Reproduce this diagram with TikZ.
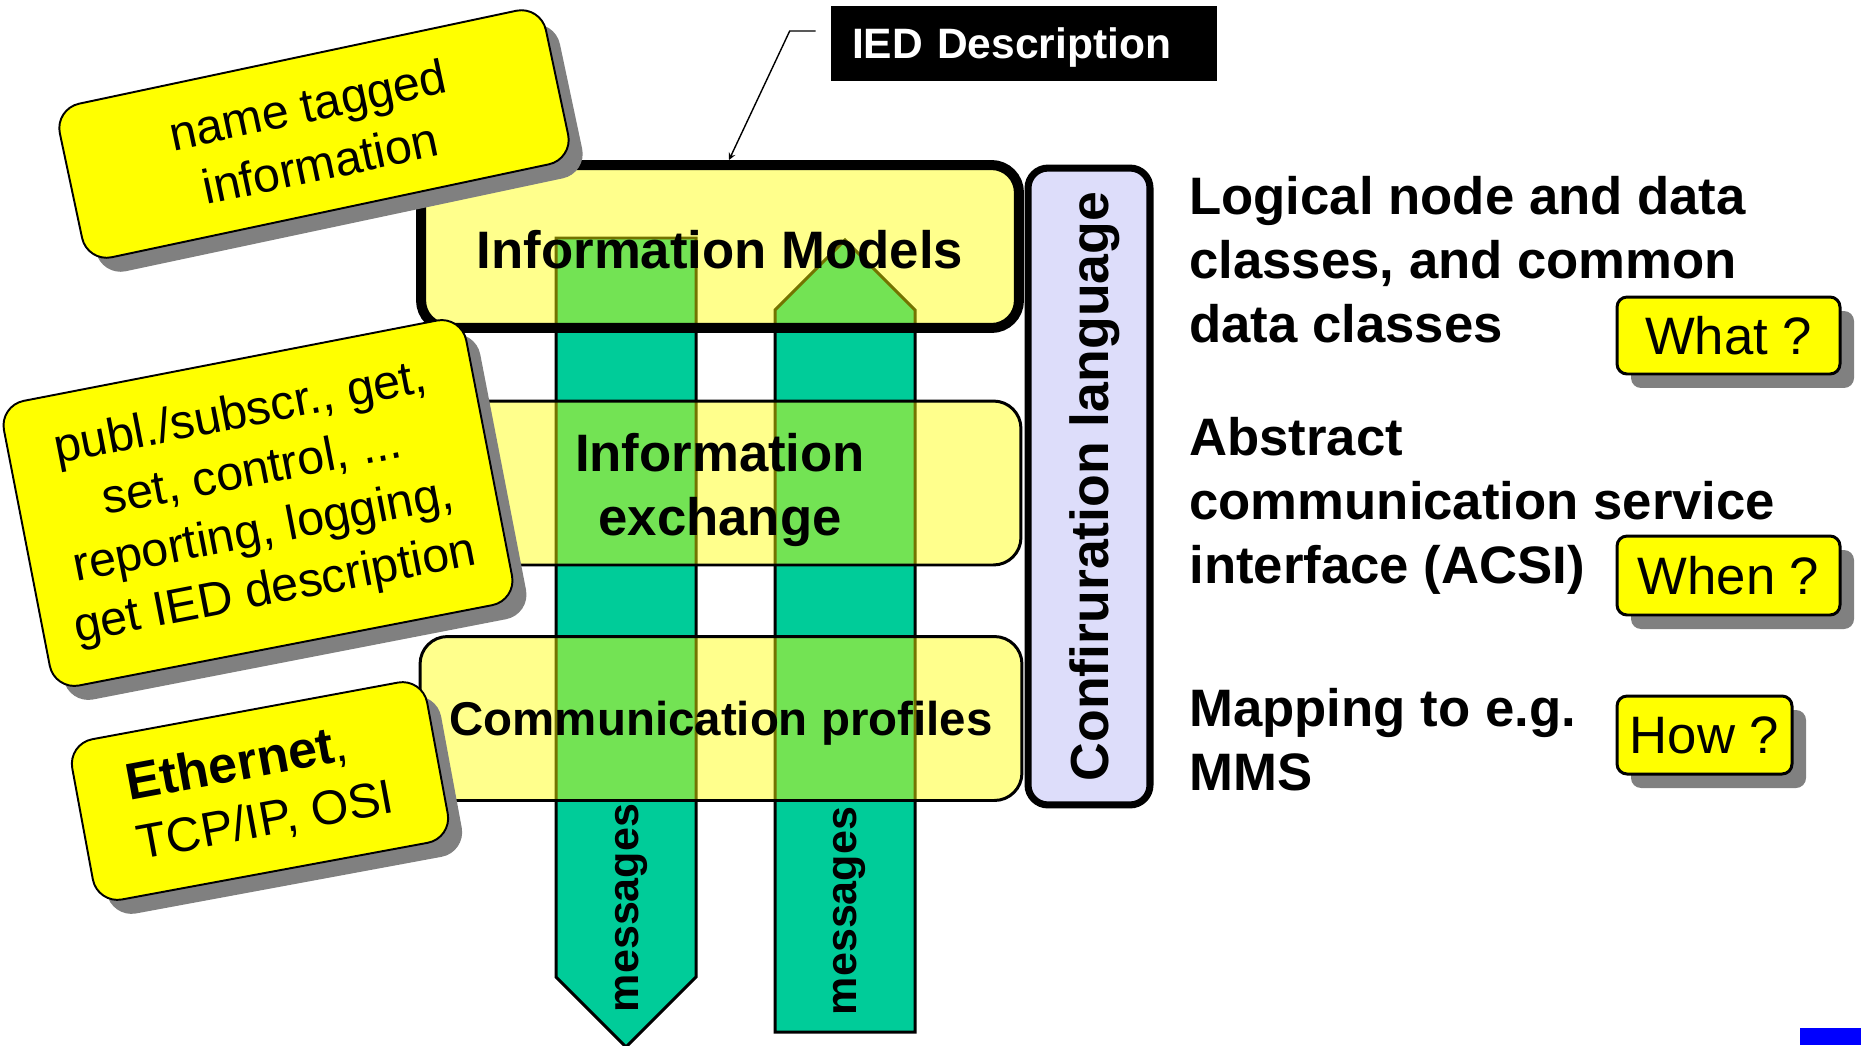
\documentclass[tikz,border=0pt]{standalone}
\usepackage{fontspec}
\setmainfont{Liberation Sans}
\usepackage{tikz}
\usetikzlibrary{shapes,arrows,positioning,calc,shadows}
\usepackage{xcolor}
\definecolor{noteyellow}{RGB}{255,255,0}
\definecolor{msggreen}{RGB}{0,204,153}
\definecolor{shadowgray}{RGB}{128,128,128}
\definecolor{conflilac}{RGB}{221,221,250}

\begin{document}
\begin{tikzpicture}[
    x=0.02cm, y=-0.02cm,
    layer/.style={draw, line width=1.7pt, rounded corners=0.55cm, fill=noteyellow, fill opacity=0.45, text opacity=1, minimum width=12.04cm, minimum height=3.28cm, align=center, font=\bfseries\fontsize{30}{36.4}\selectfont},
    column/.style={draw, line width=1.7pt, fill=msggreen},
    callout/.style={draw, line width=1.1pt, rounded corners=0.5cm, fill=noteyellow, align=center, font=\fontsize{27.5}{34}\selectfont, general shadow={fill=shadowgray, shadow xshift=0.28cm, shadow yshift=-0.28cm}},
    question/.style={draw, line width=1.7pt, rounded corners=0.2cm, fill=noteyellow, font=\fontsize{30}{36}\selectfont, general shadow={fill=shadowgray, shadow xshift=0.28cm, shadow yshift=-0.28cm}},
    topic/.style={anchor=north west, inner sep=0pt, align=left, font=\bfseries\fontsize{30}{36.4}\selectfont},
    pointer/.style={-stealth, line width=0.8pt}
]
    \useasboundingbox (0,0) rectangle (1861,1045);

    % message columns, under the layers
    \draw[column] (556,238) -- (696,238) -- (696,977) -- (626,1047) -- (556,977) -- cycle;
    \draw[column] (775,1032) -- (775,310) -- (845,240) -- (915,310) -- (915,1032) -- cycle;
    \node[rotate=90, font=\bfseries\fontsize{24.5}{28}\selectfont] (msgdown) at (631,908) {messages};
    \node[rotate=90, font=\bfseries\fontsize{24.5}{28}\selectfont] (msgup) at (849,911) {messages};

    % the three layers
    \node[layer, line width=5.7pt, minimum width=11.96cm, minimum height=3.26cm] (models) at (720,246.5) {\rule{0pt}{0.83em}Information Models};
    \node[layer] (exchange) at (720,483) {\rule{0pt}{1em}Information\\exchange};
    \node[layer, text depth=0pt, font=\bfseries\fontsize{27}{32}\selectfont] (profiles) at (721,718.5) {Communication profiles};

    \node[draw, line width=4pt, rounded corners=0.4cm, fill=conflilac, rotate=90, minimum width=12.74cm, minimum height=2.44cm, text depth=0pt, font=\bfseries\fontsize{30.5}{34}\selectfont] (config) at (1089,486.5) {Confiruration language};

    % notes on the left
    \node[callout, rotate=12, minimum width=9.94cm, minimum height=3.14cm] (tagged) at (314,134) {name tagged\\information};
    \node[callout, rotate=11, minimum width=9.42cm, minimum height=5.8cm] (services) at (258,503) {publ./subscr., get,\\set, control, ...\\reporting, logging,\\get IED description};
    \node[callout, rotate=10.5, minimum width=7.22cm, minimum height=3.26cm, align=left] (ethernet) at (260,791) {{\fontsize{29.5}{34}\selectfont\textbf{Ethernet}},\\TCP/IP, OSI};

    % IED description label
    \node[fill=black, text=white, font=\bfseries\fontsize{24.2}{29}\selectfont, minimum height=1.5cm, text width=6.88cm, text depth=0pt, inner xsep=0.42cm, align=left] (ied) at (1024,43.5) {IED Description};
    \coordinate (iedtail) at ([shift={(-15,-12.5)}]ied.west);
    \draw[pointer] (iedtail) -- ++(-26,0) -- ($(models.north)+(9,0)$);

    % right hand side
    \node[topic] (whatdesc) at (1189,176) {Logical node and data\\classes, and common\\data classes};
    \node[topic] (whendesc) at (1189,417) {Abstract\\communication service\\interface (ACSI)};
    \node[topic] (howdesc) at (1189,688) {Mapping to e.g.\\MMS};

    \node[question, minimum width=4.46cm, minimum height=1.54cm] (what) at (1728.5,335.5) {What ?};
    \node[question, minimum width=4.46cm, minimum height=1.58cm] (when) at (1728.5,575.5) {When ?};
    \node[question, minimum width=3.5cm, minimum height=1.56cm] (how) at (1704.5,735) {How ?};

    \fill[blue] (1800,1028) rectangle (1861,1045);
\end{tikzpicture}
\end{document}
